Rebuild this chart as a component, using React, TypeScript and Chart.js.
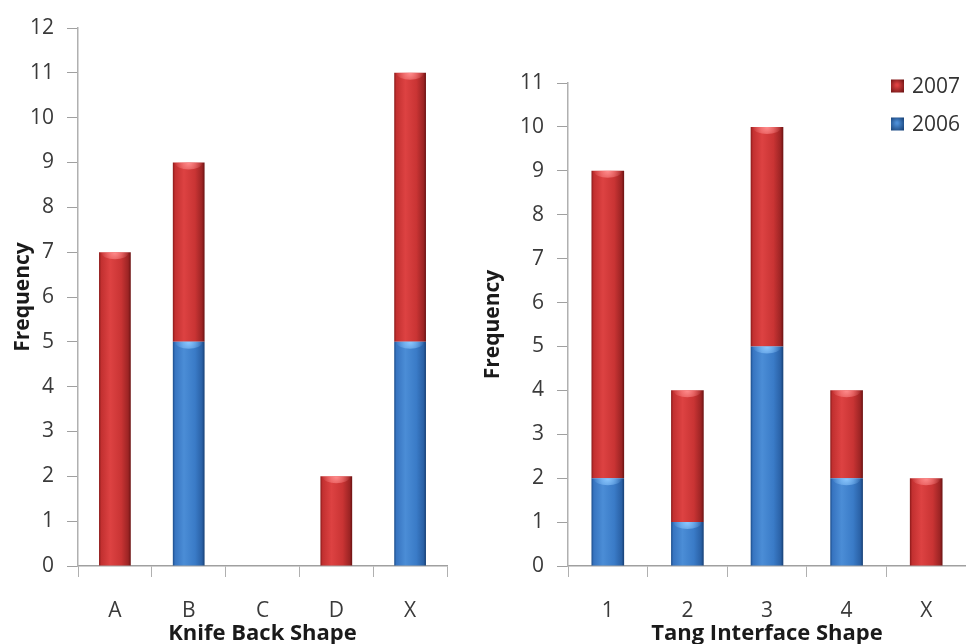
import React, { useEffect, useRef } from "react";
import { Chart, registerables } from "chart.js";

Chart.register(...registerables);

const knifeLabels = ["A", "B", "C", "D", "X"];
const knife2006 = [0, 5, 0, 0, 5];
const knife2007 = [7, 4, 0, 2, 6];

const tangLabels = ["1", "2", "3", "4", "X"];
const tang2006 = [2, 1, 5, 2, 0];
const tang2007 = [7, 3, 5, 2, 2];

const seriesNames = ["2006", "2007"];

const FONT = "'Open Sans', Lato, sans-serif";

const RED_STOPS: [number, string][] = [
  [0, "#8a1a1a"],
  [0.07, "#c23030"],
  [0.35, "#dd4242"],
  [0.7, "#c93434"],
  [0.92, "#9c2424"],
  [1, "#6a1212"],
];
const BLUE_STOPS: [number, string][] = [
  [0, "#1b4c8a"],
  [0.07, "#3774c0"],
  [0.35, "#4b8dd6"],
  [0.7, "#3a7bc7"],
  [0.92, "#2a61a6"],
  [1, "#163f74"],
];

function barFill(stops: [number, string][], pct: number) {
  return (ctx: any) => {
    const chart = ctx.chart;
    const xs = chart.scales && chart.scales.x;
    if (!xs || ctx.type !== "data") return stops[2][1];
    const c = xs.getPixelForValue(ctx.dataIndex);
    const w = (xs.width / chart.data.labels.length) * pct;
    if (!isFinite(c) || !isFinite(w) || w <= 0) return stops[2][1];
    const g = chart.ctx.createLinearGradient(c - w / 2, 0, c + w / 2, 0);
    stops.forEach(([o, col]) => g.addColorStop(o, col));
    return g;
  };
}

const capPlugin = {
  id: "caps",
  afterDatasetsDraw(chart: any) {
    const ctx = chart.ctx;
    chart.data.datasets.forEach((ds: any, di: number) => {
      const meta = chart.getDatasetMeta(di);
      const light = di === 0 ? "rgba(140,200,255," : "rgba(255,140,140,";
      meta.data.forEach((el: any) => {
        const h = Math.abs(el.base - el.y);
        if (!isFinite(h) || h < 2) return;
        const w = el.width;
        ctx.save();
        ctx.beginPath();
        ctx.rect(el.x - w / 2, el.y, w, Math.min(h, 10));
        ctx.clip();
        const g = ctx.createRadialGradient(el.x, el.y, 1, el.x, el.y, w * 0.45);
        g.addColorStop(0, light + "0.95)");
        g.addColorStop(1, light + "0)");
        ctx.fillStyle = g;
        ctx.beginPath();
        ctx.ellipse(el.x, el.y + 1, w * 0.42, 6, 0, 0, Math.PI * 2);
        ctx.fill();
        ctx.restore();
      });
    });
  },
};

const legendPlugin = {
  id: "customLegend",
  afterDraw(chart: any) {
    const opts = chart.options.plugins.customLegend;
    if (!opts || !opts.display) return;
    const ctx = chart.ctx;
    const items = chart.data.datasets.map((d: any, i: number) => ({ label: d.label, i })).reverse();
    const x0 = chart.width - 75;
    items.forEach((it: any, k: number) => {
      const cy = 86 + k * 38;
      const stops = it.i === 0 ? BLUE_STOPS : RED_STOPS;
      const g = ctx.createRadialGradient(x0 + 6, cy - 1, 1, x0 + 6, cy, 9);
      g.addColorStop(0, stops[2][1]);
      g.addColorStop(1, stops[5][1]);
      ctx.fillStyle = g;
      ctx.fillRect(x0, cy - 6.5, 13, 13);
      ctx.fillStyle = "#333333";
      ctx.font = `21px ${FONT}`;
      ctx.textBaseline = "middle";
      ctx.textAlign = "left";
      ctx.fillText(it.label, x0 + 21, cy + 1);
    });
  },
};

type Props = {
  labels: string[];
  a: number[];
  b: number[];
  yMax: number;
  xTitle: string;
  width: number;
  left: number;
  yWidth: number;
  top: number;
  rightPad: number;
  pct: number;
  legend: boolean;
};

function StackChart(p: Props) {
  const ref = useRef<HTMLCanvasElement | null>(null);
  useEffect(() => {
    if (!ref.current) return;
    const chart = new Chart(ref.current, {
      type: "bar",
      data: {
        labels: p.labels,
        datasets: [
          { label: seriesNames[0], data: p.a, backgroundColor: barFill(BLUE_STOPS, p.pct) as any, borderWidth: 0 },
          { label: seriesNames[1], data: p.b, backgroundColor: barFill(RED_STOPS, p.pct) as any, borderWidth: 0 },
        ],
      },
      plugins: [capPlugin, legendPlugin],
      options: {
        animation: false,
        responsive: false,
        devicePixelRatio: 1,
        layout: { padding: { left: 0, right: p.rightPad, top: p.top, bottom: 0 } },
        datasets: { bar: { categoryPercentage: 1, barPercentage: p.pct } },
        plugins: {
          legend: { display: false },
          tooltip: { enabled: false },
          customLegend: { display: p.legend },
        } as any,
        scales: {
          x: {
            stacked: true,
            afterFit: (s: any) => {
              s.height = 78;
            },
            grid: {
              offset: true,
              drawOnChartArea: false,
              tickLength: 11,
              color: "#b0b0b0",
            },
            border: { color: "#a0a0a0", width: 1.5 },
            ticks: { color: "#3a3a3a", font: { family: FONT, size: 21 }, padding: 21 },
            title: {
              display: true,
              text: p.xTitle,
              color: "#1a1a1a",
              font: { family: FONT, size: 22, weight: "bold" },
              padding: { top: 0, bottom: -3 },
            },
          },
          y: {
            stacked: true,
            min: 0,
            max: p.yMax,
            afterFit: (s: any) => {
              s.width = p.yWidth;
            },
            grid: { drawOnChartArea: false, tickLength: 11, color: "#a0a0a0" },
            border: { color: "#b0b0b0", width: 1.5 },
            ticks: { stepSize: 1, color: "#3a3a3a", font: { family: FONT, size: 21 }, padding: 13 },
            title: {
              display: true,
              text: "Frequency",
              color: "#1a1a1a",
              font: { family: FONT, size: 21, weight: "bold" },
              padding: { top: 10, bottom: 0 },
            },
          },
        },
      },
    });
    return () => chart.destroy();
  }, []);
  return (
    <canvas
      ref={ref}
      width={p.width}
      height={644}
      style={{ position: "absolute", left: p.left, top: 0, width: p.width, height: 644 }}
    />
  );
}

export default function App() {
  return (
    <div style={{ position: "absolute", left: 0, top: 0, width: 966, height: 644, background: "#ffffff", overflow: "hidden" }}>
      <StackChart
        labels={knifeLabels}
        a={knife2006}
        b={knife2007}
        yMax={12}
        xTitle="Knife Back Shape"
        width={470}
        left={0}
        yWidth={78}
        top={28}
        rightPad={23}
        pct={0.43}
        legend={false}
      />
      <StackChart
        labels={tangLabels}
        a={tang2006}
        b={tang2007}
        yMax={11}
        xTitle="Tang Interface Shape"
        width={496}
        left={470}
        yWidth={98}
        top={83}
        rightPad={0}
        pct={0.41}
        legend={true}
      />
    </div>
  );
}
